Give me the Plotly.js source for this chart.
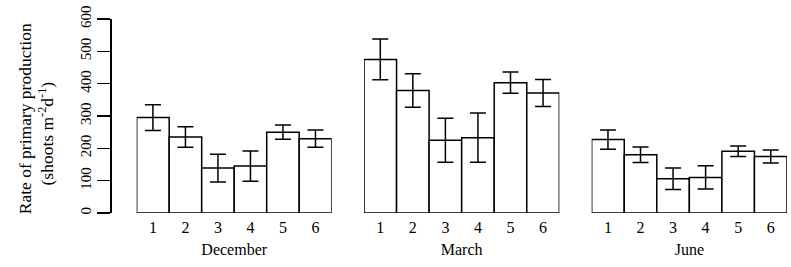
<!DOCTYPE html>
<html>
<head>
<meta charset="utf-8">
<script src="https://cdn.plot.ly/plotly-3.0.1.min.js"></script>
<style>html,body{margin:0;padding:0;background:#fff;}#chart{width:791px;height:267px;}</style>
</head>
<body>
<div id="chart"></div>
<script>
var sites = ["1", "2", "3", "4", "5", "6"];
var months = ["December", "March", "June"];
var decValues = [295, 235, 139, 145, 250, 230];
var decErrors = [40, 32, 43, 47, 22, 27];
var marValues = [475, 379, 225, 233, 403, 371];
var marErrors = [63, 52, 68, 76, 33, 42];
var junValues = [227, 180, 106, 110, 191, 175];
var junErrors = [30, 24, 33, 36, 16, 20];
var yTicks = [0, 100, 200, 300, 400, 500, 600];
var yTitleLines = ["Rate of primary production", "(shoots m<sup>-2</sup>d<sup>-1</sup>)"];

var serif = "Liberation Serif, Times New Roman, serif";
var valueSets = [decValues, marValues, junValues];
var errorSets = [decErrors, marErrors, junErrors];
var axisIds = ["x", "x2", "x3"];

var traces = valueSets.map(function (vals, i) {
  return {
    type: "bar",
    x: sites,
    y: vals,
    xaxis: axisIds[i],
    yaxis: "y",
    marker: { color: "#ffffff", line: { color: "#000000", width: 1.5 } },
    error_y: { type: "data", array: errorSets[i], visible: true, color: "#000000", thickness: 1.5, width: 8 },
    hoverinfo: "none",
    showlegend: false
  };
});

function xAxis(domain, title) {
  return {
    domain: domain,
    anchor: "y",
    type: "category",
    range: [-0.5, 5.5],
    showline: false,
    showgrid: false,
    zeroline: false,
    ticks: "",
    ticklabelstandoff: 3,
    tickfont: { family: serif, size: 16, color: "#000" },
    title: { text: title, font: { family: serif, size: 16, color: "#000" }, standoff: 8 },
    fixedrange: true
  };
}

var titlePos = [{ x: -0.1256, y: 0.488 }, { x: -0.0945, y: 0.41 }];

var layout = {
  width: 791,
  height: 267,
  margin: { l: 110, r: 4, t: 19, b: 54 },
  paper_bgcolor: "#fff",
  plot_bgcolor: "#fff",
  bargap: 0,
  xaxis: xAxis([0.0394, 0.3275], months[0]),
  xaxis2: xAxis([0.3752, 0.6637], months[1]),
  xaxis3: xAxis([0.7115, 1.0], months[2]),
  yaxis: {
    range: [0, 600],
    anchor: "free",
    position: 0,
    tickvals: yTicks,
    ticktext: yTicks.map(String),
    tickangle: -90,
    ticks: "outside",
    ticklen: 13,
    tickwidth: 1.5,
    tickcolor: "#000",
    showline: true,
    linewidth: 1.5,
    linecolor: "#000",
    showgrid: false,
    zeroline: false,
    tickfont: { family: serif, size: 15, color: "#000" },
    fixedrange: true
  },
  annotations: yTitleLines.map(function (t, i) {
    return {
      xref: "paper", yref: "paper",
      x: titlePos[i].x, y: titlePos[i].y,
      xanchor: "center", yanchor: "middle",
      textangle: -90,
      showarrow: false,
      text: t,
      font: { family: serif, size: 17.5, color: "#000" }
    };
  })
};

Plotly.newPlot("chart", traces, layout, { staticPlot: true, displayModeBar: false });
</script>
</body>
</html>
